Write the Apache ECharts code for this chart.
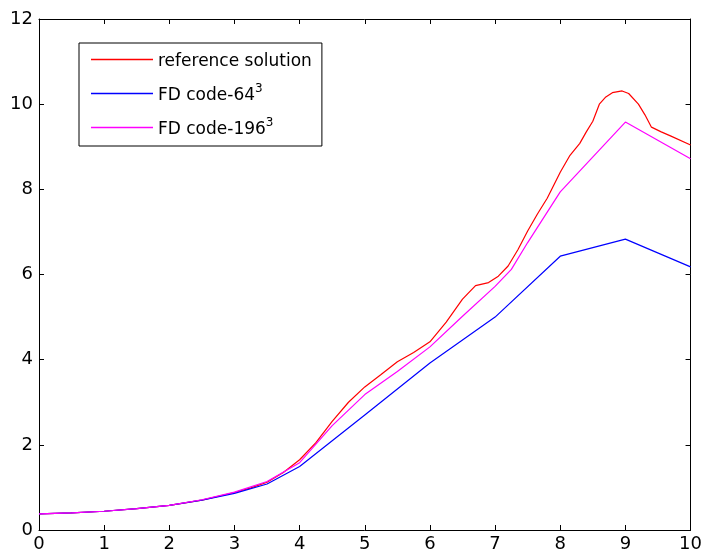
<!DOCTYPE html>
<html>
<head>
<meta charset="utf-8">
<script src="https://cdn.jsdelivr.net/npm/echarts@6/dist/echarts.min.js"></script>
<style>
  html, body { margin: 0; padding: 0; background: #fff; }
  #main { width: 705px; height: 557px; }
</style>
</head>
<body>
<div id="main"></div>
<script>
// reference solution (dense curve)
var refX = [0, 0.5, 1, 1.5, 2, 2.5, 3, 3.25, 3.5, 3.75, 4, 4.25, 4.5, 4.75, 5, 5.25, 5.5, 5.75, 6, 6.25, 6.5, 6.7, 6.9, 7.05, 7.2, 7.35, 7.5, 7.65, 7.8, 8, 8.15, 8.3, 8.4, 8.5, 8.6, 8.7, 8.8, 8.95, 9.05, 9.2, 9.3, 9.4, 9.55, 9.7, 10];
var refY = [0.38, 0.40, 0.44, 0.50, 0.58, 0.70, 0.88, 0.99, 1.12, 1.35, 1.65, 2.05, 2.55, 3.0, 3.36, 3.65, 3.95, 4.17, 4.42, 4.88, 5.42, 5.74, 5.81, 5.96, 6.2, 6.58, 7.02, 7.42, 7.79, 8.4, 8.8, 9.08, 9.35, 9.6, 10.0, 10.17, 10.27, 10.31, 10.25, 10.0, 9.75, 9.46, 9.35, 9.25, 9.04];

// FD code 64^3
var fd64X = [0, 0.5, 1, 1.5, 2, 2.5, 3, 3.5, 4, 5, 6, 7, 8, 9, 10];
var fd64Y = [0.38, 0.40, 0.44, 0.50, 0.58, 0.70, 0.86, 1.08, 1.49, 2.7, 3.92, 5.0, 6.43, 6.83, 6.18];

// FD code 196^3
var fd196X = [0, 0.5, 1, 1.5, 2, 2.5, 3, 3.5, 4, 4.5, 5, 5.5, 6, 6.5, 7, 7.25, 7.5, 8, 9, 10];
var fd196Y = [0.38, 0.40, 0.44, 0.50, 0.58, 0.71, 0.89, 1.14, 1.58, 2.45, 3.18, 3.72, 4.3, 5.02, 5.72, 6.12, 6.75, 7.94, 9.58, 8.72];

var xTicks = [0, 1, 2, 3, 4, 5, 6, 7, 8, 9, 10];
var yTicks = [0, 2, 4, 6, 8, 10, 12];

function pairs(xs, ys) {
  return xs.map(function (x, i) { return [x, ys[i]]; });
}

var font = 'DejaVu Sans, sans-serif';
var chart = echarts.init(document.getElementById('main'));

var baseAxis = {
  type: 'value',
  axisLine: { show: true, onZero: false, lineStyle: { color: '#000', width: 1 } },
  axisTick: { show: true, inside: true, length: 5, lineStyle: { color: '#000' } },
  splitLine: { show: false }
};

chart.setOption({
  animation: false,
  backgroundColor: '#fff',
  grid: { left: 39, right: 11, top: 19, bottom: 27 },
  legend: {
    orient: 'vertical',
    left: 79,
    top: 43,
    padding: [10, 10, 8, 12],
    borderColor: '#000',
    borderWidth: 1,
    backgroundColor: '#fff',
    icon: 'rect',
    itemWidth: 62,
    itemHeight: 1.5,
    itemGap: 13,
    selectedMode: false,
    data: ['reference solution', 'FD code-64', 'FD code-196'],
    formatter: function (name) {
      if (name === 'reference solution') return '{t|' + name + '}';
      return '{t|' + name + '}{s|3}';
    },
    textStyle: {
      fontFamily: font,
      color: '#000',
      rich: {
        t: { fontSize: 17, fontFamily: font, color: '#000', padding: [4, 0, 0, 0] },
        s: { fontSize: 12, fontFamily: font, color: '#000', verticalAlign: 'top', padding: [0, 0, 6, 0] }
      }
    }
  },
  xAxis: [
    Object.assign({}, baseAxis, {
      min: 0, max: 10, interval: 1, position: 'bottom',
      axisLabel: { color: '#000', fontSize: 18, fontFamily: font, margin: 5,
        formatter: function (v) { return xTicks.indexOf(v) >= 0 ? String(v) : ''; } }
    }),
    Object.assign({}, baseAxis, {
      min: 0, max: 10, interval: 1, position: 'top', axisLabel: { show: false }
    })
  ],
  yAxis: [
    Object.assign({}, baseAxis, {
      min: 0, max: 12, interval: 2, position: 'left',
      axisLabel: { color: '#000', fontSize: 18, fontFamily: font, margin: 6,
        formatter: function (v) { return yTicks.indexOf(v) >= 0 ? String(v) : ''; } }
    }),
    Object.assign({}, baseAxis, {
      min: 0, max: 12, interval: 2, position: 'right', axisLabel: { show: false }
    })
  ],
  series: [
    {
      name: 'reference solution', type: 'line', symbol: 'none',
      data: pairs(refX, refY),
      color: '#ff0000', lineStyle: { color: '#ff0000', width: 1.2 }
    },
    {
      name: 'FD code-64', type: 'line', symbol: 'none',
      data: pairs(fd64X, fd64Y),
      color: '#0000ff', lineStyle: { color: '#0000ff', width: 1.2 }
    },
    {
      name: 'FD code-196', type: 'line', symbol: 'none',
      data: pairs(fd196X, fd196Y),
      color: '#ff00ff', lineStyle: { color: '#ff00ff', width: 1.2 }
    }
  ]
});
</script>
</body>
</html>
